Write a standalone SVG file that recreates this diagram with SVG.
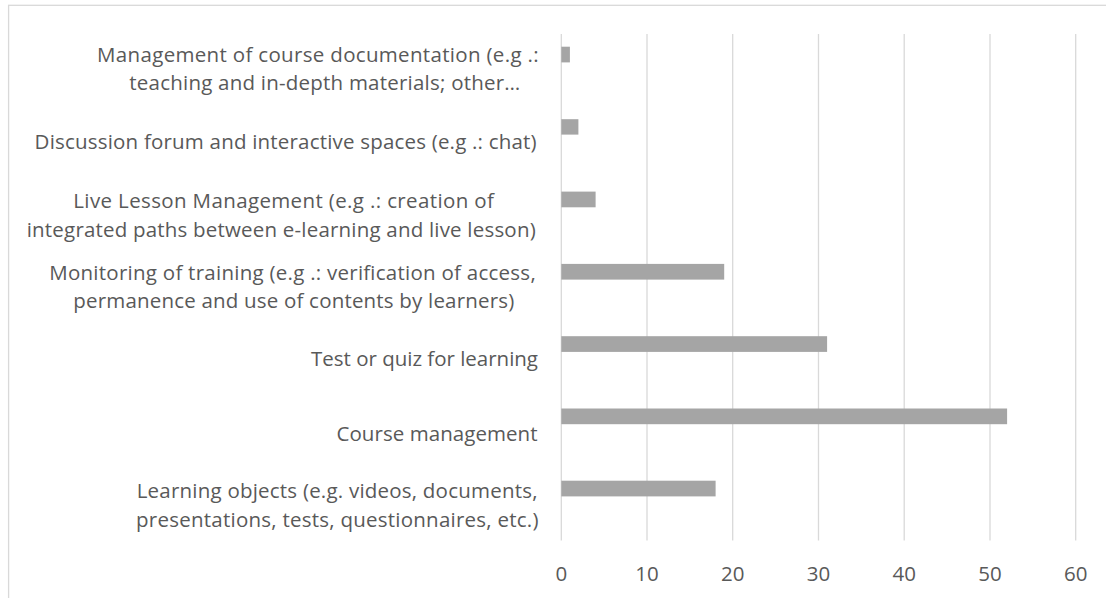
<svg xmlns="http://www.w3.org/2000/svg" width="1106" height="598" viewBox="0 0 1106 598">
<style>
.frame{fill:#FFFFFF;stroke:#D9D9D9;stroke-width:1.3}
.grid{stroke:#D9D9D9;stroke-width:1.3;fill:none}
.bar{fill:#A5A5A5}
.lbl{font-family:"Open Sans","Liberation Sans",sans-serif;font-size:20.5px;fill:#595959}
.tick{font-family:"Open Sans","Liberation Sans",sans-serif;font-size:20.5px;fill:#595959;text-anchor:middle}
</style>
<rect class="frame" x="8.6" y="5.3" width="1110" height="600"/>
<g id="gridlines">
<line class="grid" x1="561.3" y1="34" x2="561.3" y2="540.5"/>
<line class="grid" x1="647" y1="34" x2="647" y2="540.5"/>
<line class="grid" x1="732.7" y1="34" x2="732.7" y2="540.5"/>
<line class="grid" x1="818.5" y1="34" x2="818.5" y2="540.5"/>
<line class="grid" x1="904.2" y1="34" x2="904.2" y2="540.5"/>
<line class="grid" x1="990" y1="34" x2="990" y2="540.5"/>
<line class="grid" x1="1075.7" y1="34" x2="1075.7" y2="540.5"/>
</g>
<g id="x-axis-labels">
<text class="tick" x="561.3" y="581">0</text>
<text class="tick" x="647" y="581">10</text>
<text class="tick" x="732.7" y="581">20</text>
<text class="tick" x="818.5" y="581">30</text>
<text class="tick" x="904.2" y="581">40</text>
<text class="tick" x="990" y="581">50</text>
<text class="tick" x="1075.7" y="581">60</text>
</g>
<g id="cat-documentation">
<text class="lbl" x="97.1" y="61.7" textLength="441.5" lengthAdjust="spacing">Management of course documentation (e.g .:</text>
<text class="lbl" x="129.3" y="90" textLength="391" lengthAdjust="spacing">teaching and in-depth materials; other…</text>
<rect class="bar" x="561.3" y="46.7" width="8.6" height="15.7"/>
</g>
<g id="cat-forum">
<text class="lbl" x="34.6" y="148.5" textLength="502" lengthAdjust="spacing">Discussion forum and interactive spaces (e.g .: chat)</text>
<rect class="bar" x="561.3" y="119.2" width="17.1" height="15.4"/>
</g>
<g id="cat-live">
<text class="lbl" x="73.3" y="208.3" textLength="420.6" lengthAdjust="spacing">Live Lesson Management (e.g .: creation of</text>
<text class="lbl" x="26.7" y="236.7" textLength="509" lengthAdjust="spacing">integrated paths between e-learning and live lesson)</text>
<rect class="bar" x="561.3" y="191.6" width="34.3" height="15.7"/>
</g>
<g id="cat-monitoring">
<text class="lbl" x="49.2" y="280" textLength="486.5" lengthAdjust="spacing">Monitoring of training (e.g .: verification of access,</text>
<text class="lbl" x="73.3" y="308.3" textLength="441" lengthAdjust="spacing">permanence and use of contents by learners)</text>
<rect class="bar" x="561.3" y="263.9" width="162.9" height="15.7"/>
</g>
<g id="cat-test">
<text class="lbl" x="311" y="366" textLength="227" lengthAdjust="spacing">Test or quiz for learning</text>
<rect class="bar" x="561.3" y="336.2" width="265.8" height="15.7"/>
</g>
<g id="cat-course">
<text class="lbl" x="336.5" y="440.5" textLength="201" lengthAdjust="spacing">Course management</text>
<rect class="bar" x="561.3" y="408.5" width="445.8" height="15.7"/>
</g>
<g id="cat-objects">
<text class="lbl" x="136.7" y="498.3" textLength="400.8" lengthAdjust="spacing">Learning objects (e.g. videos, documents,</text>
<text class="lbl" x="136" y="526.7" textLength="402.5" lengthAdjust="spacing">presentations, tests, questionnaires, etc.)</text>
<rect class="bar" x="561.3" y="480.7" width="154.3" height="15.7"/>
</g>
</svg>
